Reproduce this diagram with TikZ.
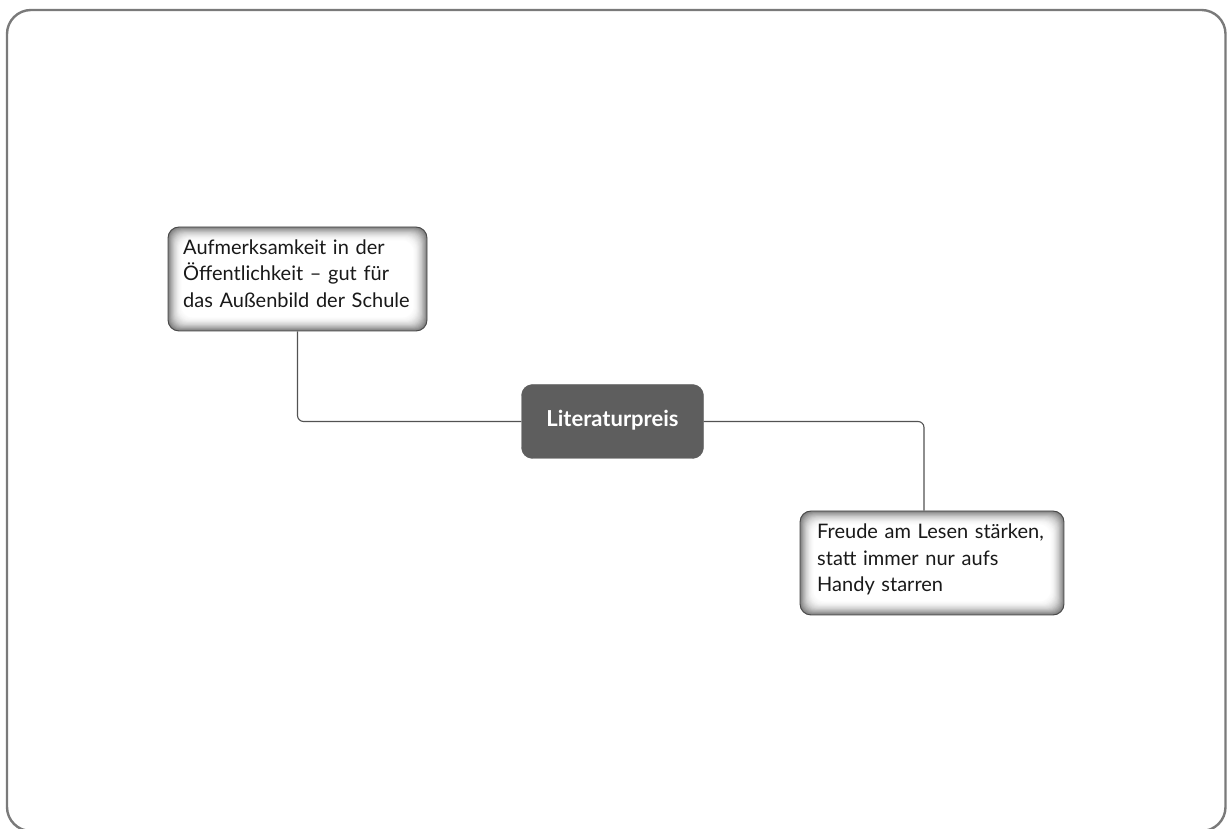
\documentclass[tikz,border=0pt]{standalone}
\usepackage{fontspec}
\setmainfont{Lato}
\begin{document}
\begin{tikzpicture}[x=1pt,y=1pt,
  frame/.style={draw=black!52, line width=2.4pt, rounded corners=24pt},
  glowbox/.style={draw=black!72, line width=0.9pt, rounded corners=11pt, inner sep=0pt,
    path picture={
      \foreach \i in {0,...,20}{
        \pgfmathtruncatemacro\c{52*(1-\i/20)^2}
        \fill[black!\c, rounded corners=11pt]
          ([shift={(\i*0.75pt,\i*0.75pt)}]path picture bounding box.south west) rectangle
          ([shift={(-\i*0.75pt,-\i*0.75pt)}]path picture bounding box.north east);
      }
    }},
  central/.style={fill=black!63, draw=black!63, rounded corners=11pt, minimum width=182pt,
    minimum height=74pt},
  ctext/.style={inner sep=0pt, anchor=base, text=white, font=\fontsize{22}{26}\selectfont\bfseries},
  txt/.style={inner sep=0pt, align=left, anchor=base west,
    font=\fontsize{20}{26.5}\selectfont, text=black!90},
  conn/.style={draw=black!68, line width=1.1pt, rounded corners=6pt}
]
\useasboundingbox (0,0) rectangle (1227,828);
\draw[frame] (7,-3) rectangle (1225.5,818);

\node[glowbox, minimum width=259pt, minimum height=104pt] (n1) at (297.5,549) {};
\node[central] (c) at (612.5,406.5) {};
\node[glowbox, minimum width=264pt, minimum height=104pt] (n3) at (932,265) {};

\node[ctext] (ct) at (612.5,401.5) {Literaturpreis};
\node[txt, text width=245pt] (t1) at (183,573.5) {Aufmerksamkeit in der\\Öffentlichkeit – gut für\\das Außenbild der Schule};
\node[txt, text width=250pt] (t3) at (817,289) {Freude am Lesen stärken,\\statt immer nur aufs\\Handy starren};

\draw[conn] (n1.south) |- (c.west);
\draw[conn] (c.east) -| ([xshift=-8pt]n3.north);
\end{tikzpicture}
\end{document}
